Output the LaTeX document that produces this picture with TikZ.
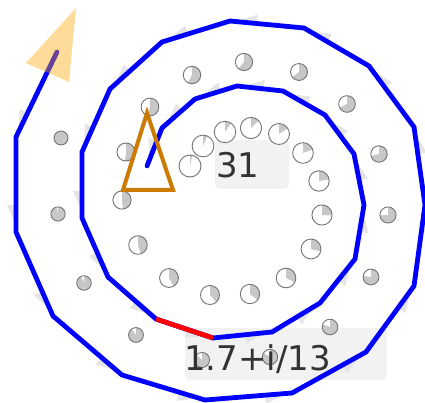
\documentclass[tikz,border=0pt]{standalone}
\usepackage{fontspec}
\setmainfont{DejaVu Sans}
\usetikzlibrary{calc}
\definecolor{spiralblue}{RGB}{0,0,255}
\definecolor{tracered}{RGB}{255,0,0}
\definecolor{headorange}{RGB}{204,122,0}
\definecolor{tiporange}{RGB}{255,165,0}
\definecolor{boxgray}{RGB}{242,242,242}
\definecolor{labelink}{RGB}{51,51,51}

\begin{document}
\begin{tikzpicture}[x=1pt,y=-1pt,line join=miter,
  track/.style={draw=spiralblue,line width=4.8pt,line cap=round},
  ghost/.style={fill=black!10},
  rim/.style={draw=black!55,line width=.9pt},
  slice/.style={fill=black!22},
  tag/.style={fill=boxgray,rounded corners=5pt},
  tagtext/.style={text=labelink,inner sep=0pt,anchor=base west,
    font=\fontsize{34}{40}\selectfont}]
\useasboundingbox (0,0) rectangle (425,403);
% Label boxes.
\fill[tag](215,140) rectangle (289,189);
\fill[tag](185,328) rectangle (387,380);
% Spiral corners.
\foreach \x/\y [count=\n from 0] in {147/166,162/128,195/99,237/86,283/91,
  325/115,354/154,364/205,355/259,320/303,272/332,213/338,156/319,108/277,
  82/218,82/152,110/89,162/42,230/21,304/28,369/66,414/127,425/205,414/286,
  366/352,292/393,205/400,122/375,53/316,16/232,16/137,57/52}
  \coordinate (s\n) at (\x,\y);
% Faint marks after each corner.
\foreach \n [evaluate=\n as \m using int(\n+1)] in {0,...,30}
  \fill[ghost]($(s\n)!6pt!(s\m)$)--($(s\n)!27pt!(s\m)$)
    --($(s\n)!27pt!(s\m)!9pt!90:(s\m)$)--cycle;
% Dials, filled i/31.
\foreach \x/\y [count=\i] in {190/166,203/146,225/132,251/128,279/134,
  303/153,319/181,322/215,311/249,286/278,250/294,210/295,169/278,138/245,
  122/200,126/152,150/107,192/75,244/62,299/72,347/104,379/154,388/215,
  371/277,330/327,270/357,202/360,136/335,84/283,58/214,61/138}{
  \pgfmathsetmacro\r{11-(\i-1)*4/30}
  \fill[white](\x,\y) circle[radius=\r pt];
  \fill[slice](\x,\y)--++(90:\r pt)
    arc[start angle=90,delta angle={-360*\i/31},radius=\r pt]--cycle;
  \draw[rim](\x,\y) circle[radius=\r pt];
}
% Path.
\draw[track](s0) \foreach \n in {1,...,31}{--(s\n)};
\draw[draw=tracered,line width=4.8pt](s11)--(s12);
% Heading.
\draw[headorange,line width=4pt](147,113)--(173,190)--(123,190)--cycle;
\fill[tiporange,opacity=.4](76,8)--(26,63)--(69,82)--cycle;
% Labels.
\node[tagtext](count) at (216,178) {31};
\node[tagtext](param) at (184,370) {1.7+i/13};
\end{tikzpicture}
\end{document}
